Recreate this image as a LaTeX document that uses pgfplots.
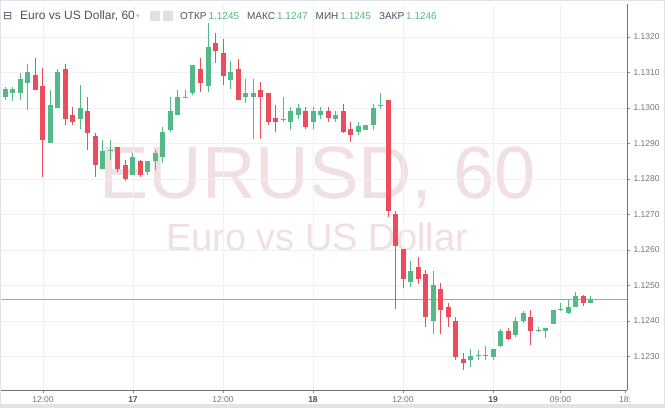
\documentclass[border=0pt]{standalone}
\usepackage{fontspec}
\setmainfont{Liberation Sans}
\newfontfamily\dejavu{DejaVu Sans}
\usepackage{pgfplots}
\usepackage{pgfplotstable}
\pgfplotsset{compat=1.18}
\definecolor{upc}{RGB}{83,185,135}
\definecolor{dnc}{RGB}{235,77,92}
\definecolor{gridc}{RGB}{238,241,246}
\definecolor{wm}{RGB}{241,223,225}
\definecolor{txt}{RGB}{76,82,94}
\definecolor{tickc}{RGB}{115,118,128}
\definecolor{framec}{RGB}{224,227,235}
\definecolor{pline}{RGB}{100,200,150}

% hourly candles, t = hours from day 16 00:00
\pgfplotstableread{
t o h l c
7 1.13031 1.13059 1.13023 1.13054
8 1.13042 1.13059 1.13020 1.13054
9 1.13042 1.13099 1.13023 1.13082
10 1.13070 1.13124 1.12994 1.13101
13 1.12901 1.13051 1.12901 1.13008
14 1.13000 1.13110 1.13000 1.13101
17 1.12969 1.13065 1.12941 1.13000
20 1.12828 1.12910 1.12828 1.12879
21 1.12878 1.12910 1.12854 1.12882
24 1.12811 1.12873 1.12811 1.12862
26 1.12820 1.12851 1.12811 1.12851
27 1.12851 1.12882 1.12825 1.12873
28 1.12862 1.12946 1.12845 1.12932
29 1.12938 1.13031 1.12932 1.12992
30 1.12980 1.13051 1.12980 1.13031
31 1.13029 1.13051 1.13028 1.13032
32 1.13042 1.13121 1.13037 1.13121
34 1.13062 1.13239 1.13045 1.13172
37 1.13079 1.13132 1.13054 1.13101
39 1.13031 1.13082 1.13014 1.13042
40 1.13031 1.13082 1.12913 1.13042
44 1.12967 1.13031 1.12961 1.12970
45 1.12961 1.13003 1.12938 1.12992
46 1.12980 1.13011 1.12969 1.13000
48 1.12961 1.13003 1.12941 1.12992
49 1.12980 1.13003 1.12969 1.12992
51 1.12969 1.12992 1.12961 1.12980
54 1.12932 1.12961 1.12924 1.12949
55 1.12938 1.12952 1.12938 1.12952
56 1.12952 1.13011 1.12938 1.13000
57 1.13006 1.13042 1.12997 1.13009
61 1.12510 1.12569 1.12496 1.12541
64 1.12400 1.12541 1.12363 1.12501
69 1.12290 1.12321 1.12270 1.12301
70 1.12300 1.12318 1.12290 1.12303
71 1.12300 1.12330 1.12290 1.12303
72 1.12299 1.12321 1.12290 1.12321
73 1.12330 1.12377 1.12327 1.12372
75 1.12361 1.12411 1.12355 1.12400
76 1.12400 1.12428 1.12394 1.12422
78 1.12371 1.12383 1.12369 1.12374
79 1.12372 1.12380 1.12352 1.12380
80 1.12392 1.12431 1.12392 1.12431
81 1.12430 1.12451 1.12428 1.12433
82 1.12422 1.12459 1.12420 1.12439
83 1.12439 1.12482 1.12439 1.12470
85 1.12451 1.12470 1.12451 1.12459
}\up

\pgfplotstableread{
t o h l c
11 1.13093 1.13141 1.13051 1.13051
12 1.13062 1.13113 1.12806 1.12910
15 1.13110 1.13124 1.12952 1.12969
16 1.12980 1.13003 1.12952 1.12961
18 1.12992 1.13031 1.12882 1.12930
19 1.12921 1.12930 1.12806 1.12839
22 1.12890 1.12890 1.12820 1.12828
23 1.12839 1.12854 1.12794 1.12800
25 1.12851 1.12854 1.12806 1.12811
33 1.13110 1.13141 1.13045 1.13070
35 1.13183 1.13211 1.13127 1.13161
36 1.13155 1.13194 1.13065 1.13090
38 1.13110 1.13138 1.13023 1.13023
41 1.13051 1.13073 1.12913 1.13031
42 1.13042 1.13042 1.12952 1.12961
43 1.12972 1.13008 1.12932 1.12961
47 1.12992 1.13003 1.12941 1.12946
50 1.12992 1.13003 1.12961 1.12972
52 1.12992 1.13011 1.12930 1.12932
53 1.12941 1.12961 1.12904 1.12924
58 1.13023 1.13023 1.12693 1.12710
59 1.12701 1.12710 1.12434 1.12611
60 1.12603 1.12603 1.12493 1.12518
62 1.12552 1.12580 1.12504 1.12518
63 1.12532 1.12544 1.12383 1.12411
65 1.12490 1.12507 1.12363 1.12431
66 1.12439 1.12451 1.12383 1.12411
67 1.12400 1.12411 1.12290 1.12299
68 1.12293 1.12310 1.12262 1.12282
74 1.12372 1.12380 1.12346 1.12349
77 1.12411 1.12431 1.12332 1.12372
84 1.12470 1.12473 1.12442 1.12451
}\down

\begin{document}
\begin{tikzpicture}[x=1pt,y=1pt]
\path[use as bounding box] (0,0) rectangle (665,408);
\fill[white] (0,0) rectangle (665,408);
% watermark
\node[anchor=base, text=wm, font=\fontsize{74}{80}\selectfont, inner sep=0] at (317.5,210) {EURUSD, 60};
\node[anchor=base, text=wm, font=\fontsize{38}{42}\selectfont, inner sep=0] at (317,158) {Euro vs US Dollar};

\begin{axis}[
  at={(0pt,18pt)}, anchor=south west,
  scale only axis, width=627pt, height=386pt,
  xmin=6.2667, xmax=89.8667,
  ymin=1.122056, ymax=1.13293,
  axis x line*=bottom, axis y line*=right,
  axis line style={draw=black!55, line width=0.8pt, -},
  tick align=outside, major tick length=3pt,
  tick style={draw=black!45, line width=0.6pt},
  grid=major, grid style={draw=gridc, line width=0.8pt},
  ytick={1.123,1.124,1.125,1.126,1.127,1.128,1.129,1.130,1.131,1.132},
  scaled y ticks=false,
  /pgf/number format/assume math mode=true,
  yticklabel style={/pgf/number format/fixed, /pgf/number format/fixed zerofill,
    /pgf/number format/precision=4, font=\fontsize{8.5}{10}\selectfont, text=tickc},
  xtick={12,24,36,48,60,72,81},
  xticklabels={12:00,\textbf{\textcolor{txt}{17}},12:00,\textbf{\textcolor{txt}{18}},12:00,\textbf{\textcolor{txt}{19}},09:00},
  xticklabel style={font=\fontsize{8.5}{10}\selectfont, text=tickc},
  extra x ticks={89.6}, extra x tick labels={18:},
  extra x tick style={grid=none},
  candle/.style={forget plot, draw=none, mark=none},
]
% current price line
\addplot[draw=pline, mark=none, line width=0.9pt, forget plot] coordinates {(6.2667,1.1246) (89.8667,1.1246)};
% wicks
\addplot[candle,
  error bars/.cd, y dir=both, y explicit, error mark=none,
  error bar style={line width=1pt, draw=upc}]
  table[x=t, y=c, y error plus expr={\thisrow{h}-\thisrow{c}}, y error minus expr={\thisrow{c}-\thisrow{l}}] {\up};
\addplot[candle,
  error bars/.cd, y dir=both, y explicit, error mark=none,
  error bar style={line width=1pt, draw=dnc}]
  table[x=t, y=c, y error plus expr={\thisrow{h}-\thisrow{c}}, y error minus expr={\thisrow{c}-\thisrow{l}}] {\down};
% bodies
\addplot[candle,
  error bars/.cd, y dir=minus, y explicit, error mark=none,
  error bar style={line width=5pt, draw=upc}]
  table[x=t, y=c, y error minus expr={\thisrow{c}-\thisrow{o}}] {\up};
\addplot[candle,
  error bars/.cd, y dir=plus, y explicit, error mark=none,
  error bar style={line width=5pt, draw=dnc}]
  table[x=t, y=c, y error plus expr={\thisrow{o}-\thisrow{c}}] {\down};
% last price label
\node[anchor=west, fill=upc, text=white, inner xsep=3pt, inner ysep=0pt, minimum height=14pt,
  font=\fontsize{8.5}{10}\selectfont] at (axis cs:89.8667,1.1246) {1.1246};
\end{axis}

% header
\node[anchor=base west, inner sep=0, text=txt, font=\dejavu\fontsize{11}{12}\selectfont] at (3,388) {⊟};
\node[anchor=base west, inner sep=0, text=txt, font=\fontsize{12}{14}\selectfont] at (20,388) {Euro vs US Dollar, 60};
\node[anchor=base west, inner sep=0, text=black!25, font=\dejavu\fontsize{7}{8}\selectfont] at (136,389) {▾};
\fill[black!12, rounded corners=1pt] (150,387) rectangle (160,397);
\fill[black!12, rounded corners=1pt] (163,387) rectangle (173,397);
\node[anchor=base west, inner sep=0, font=\fontsize{10}{12}\selectfont] at (180,388)
  {\textcolor{txt}{ОТКР}\hspace{2pt}\textcolor{upc}{1.1245}\hspace{8pt}%
   \textcolor{txt}{МАКС}\hspace{2pt}\textcolor{upc}{1.1247}\hspace{8pt}%
   \textcolor{txt}{МИН}\hspace{2pt}\textcolor{upc}{1.1245}\hspace{8pt}%
   \textcolor{txt}{ЗАКР}\hspace{2pt}\textcolor{upc}{1.1246}};
% frame
\fill[framec] (0,0) rectangle (665,4);
\draw[framec, line width=1pt] (0.5,0.5) rectangle (664.5,407.5);
\end{tikzpicture}
\end{document}
